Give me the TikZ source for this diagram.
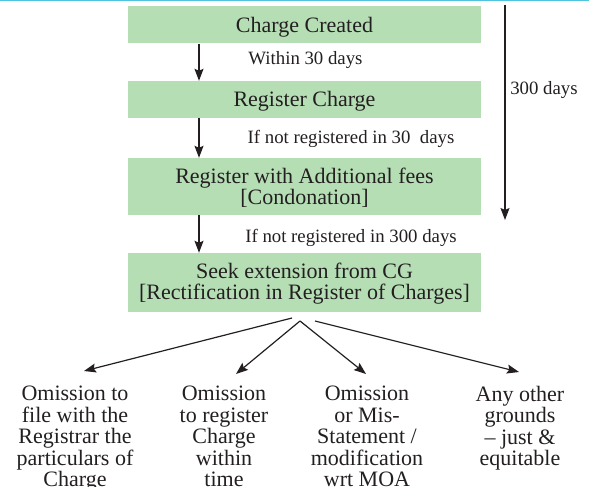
\documentclass[tikz,border=0pt]{standalone}
\usepackage{fontspec}
\setmainfont{Liberation Serif}
\usetikzlibrary{arrows.meta}
\definecolor{boxgreen}{RGB}{182,222,181}
\definecolor{rulecyan}{RGB}{80,195,222}
\definecolor{ink}{RGB}{35,31,32}
% strut that lowers the first line of a box a little
\newcommand{\boxstrut}[1]{\rule{0pt}{#1}}
\begin{document}
\begin{tikzpicture}[x=1pt,y=-1pt,
  stepbox/.style={fill=boxgreen,draw=none,minimum width=353pt,inner sep=0pt,
    text=ink,align=center,font=\fontsize{22}{21}\selectfont},
  lbl/.style={text=ink,inner sep=0pt,font=\fontsize{18.8}{20}\selectfont},
  leaf/.style={text=ink,inner sep=0pt,align=center,anchor=north,
    font=\fontsize{22}{21.5}\selectfont},
  arr/.style={draw=ink,line width=1.2pt,-{Stealth[length=12pt,width=9pt,inset=2pt]}}]
\useasboundingbox (0,0) rectangle (589,487);
% rule along the top edge
\draw[rulecyan,line width=2pt] (0,0.5) -- (589,0.5);

% the four stages
\node[stepbox,minimum height=37pt] (b1) at (304.5,25) {\boxstrut{19pt}Charge Created};
\node[stepbox,minimum height=37pt] (b2) at (304.5,99.5) {\boxstrut{19pt}Register Charge};
\node[stepbox,minimum height=57pt] (b3) at (304.5,186.5) {\boxstrut{18pt}Register with Additional fees\\{}[Condonation]};
\node[stepbox,minimum height=59pt] (b4) at (304.5,282.5) {\boxstrut{18pt}Seek extension from CG\\{}[Rectification in Register of Charges]};

% vertical flow on the left
\coordinate (ax) at (199,0);
\draw[arr] (b1.south -| ax) -- (b2.north -| ax);
\draw[arr] (b2.south -| ax) -- (b3.north -| ax);
\draw[arr] (b3.south -| ax) -- (b4.north -| ax);
\node[lbl] (l1) at (305.5,60) {Within 30 days};
\node[lbl] (l2) at (351,139) {If not registered in 30\ \ days};
\node[lbl] (l3) at (351,238) {If not registered in 300 days};

% overall time span
\coordinate (tTop) at (505,5);
\coordinate (tBot) at (505,220);
\draw[arr] (tTop) -- (tBot);
\node[lbl] (l4) at (544,90) {300 days};

% grounds for extension
\node[leaf] (g1) at (75,386) {Omission to\\file with the\\Registrar the\\particulars of\\Charge};
\node[leaf] (g2) at (224,386) {Omission\\to register\\Charge\\within\\time};
\node[leaf] (g3) at (367,386) {Omission\\or Mis-\\Statement /\\modification\\wrt MOA};
\node[leaf] (g4) at (520,386) {Any other\\grounds\\\textendash{} just \&\\equitable};

\coordinate (sA) at (292,318);
\coordinate (sB) at (300,321);
\coordinate (sC) at (315,321);
\coordinate (t1) at (84,371);
\coordinate (t2) at (236,374);
\coordinate (t3) at (366,374);
\coordinate (t4) at (519,372);
\draw[arr] (sA) -- (t1);
\draw[arr] (sB) -- (t2);
\draw[arr] (sB) -- (t3);
\draw[arr] (sC) -- (t4);
\end{tikzpicture}
\end{document}
